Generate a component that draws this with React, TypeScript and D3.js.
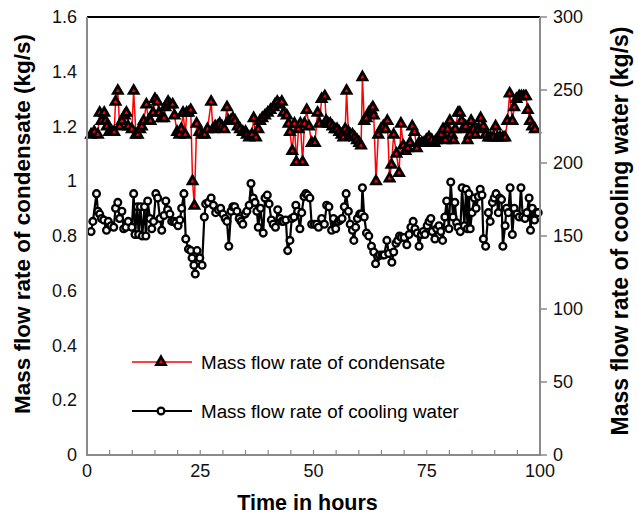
import React from "react";
import * as d3 from "d3";

// Condensate (kg/s): time (h) and value
const condHours = [0.9,1.6,2.4,2.8,3.2,3.8,4.1,4.4,4.9,5.5,6.0,6.3,6.8,7.2,7.7,8.3,8.7,9.1,9.9,10.3,10.8,11.2,11.7,12.1,12.5,13.1,13.6,14.0,14.6,15.0,15.5,15.9,16.4,17.0,17.3,17.9,18.3,18.9,19.3,19.9,20.4,20.8,21.2,21.7,22.0,22.4,22.9,23.3,23.7,24.2,24.8,25.4,26.0,26.6,27.4,27.8,28.3,28.8,29.3,29.8,30.3,30.9,31.2,31.7,32.2,32.7,33.3,33.8,34.4,35.0,35.3,35.8,36.4,36.8,37.3,37.8,38.2,38.7,39.3,39.9,40.5,41.2,41.5,42.0,42.5,43.0,43.4,44.1,44.5,44.8,45.3,45.8,46.2,46.7,47.1,47.6,48.0,48.5,49.0,49.6,50.3,50.9,51.3,51.8,52.5,52.8,53.2,53.7,54.2,54.7,55.2,55.7,56.2,56.6,57.0,57.3,57.7,58.1,58.6,59.1,59.6,60.1,60.5,60.8,61.2,61.7,62.2,62.7,63.1,63.3,63.8,64.3,64.9,65.4,65.9,66.3,66.8,67.2,67.7,68.3,68.9,69.3,69.8,70.3,70.8,71.3,71.8,72.3,72.8,73.3,73.9,74.4,74.9,75.5,76.1,76.7,77.1,77.7,78.2,78.6,79.1,79.6,80.1,80.5,80.9,81.3,81.9,82.3,82.7,83.0,83.6,84.0,84.5,84.8,85.3,85.7,86.4,86.9,87.5,88.0,88.6,89.1,89.7,90.2,90.6,91.2,91.8,92.3,92.8,93.3,93.9,94.3,94.8,95.4,95.9,96.4,96.9,97.3,97.8,98.3,98.9];
const condensate = [1.17,1.18,1.17,1.25,1.22,1.25,1.22,1.20,1.18,1.18,1.18,1.29,1.33,1.20,1.22,1.24,1.25,1.20,1.19,1.33,1.17,1.17,1.19,1.20,1.22,1.28,1.22,1.22,1.25,1.30,1.29,1.25,1.23,1.23,1.27,1.29,1.28,1.28,1.24,1.18,1.17,1.19,1.25,1.17,1.25,1.25,1.26,1.00,0.91,1.21,1.18,1.17,1.17,1.19,1.29,1.19,1.20,1.20,1.21,1.20,1.19,1.27,1.22,1.22,1.23,1.22,1.20,1.19,1.18,1.18,1.17,1.16,1.17,1.23,1.16,1.19,1.22,1.23,1.24,1.25,1.26,1.27,1.28,1.29,1.28,1.29,1.25,1.24,1.21,1.18,1.11,1.21,1.07,1.19,1.21,1.07,1.21,1.26,1.20,1.14,1.14,1.25,1.21,1.30,1.31,1.22,1.21,1.21,1.20,1.19,1.19,1.18,1.17,1.16,1.19,1.33,1.18,1.17,1.17,1.16,1.15,1.14,1.13,1.38,1.22,1.23,1.25,1.26,1.27,1.24,1.00,1.17,1.19,1.20,1.19,1.22,1.01,1.06,1.17,1.10,1.03,1.21,1.13,1.11,1.12,1.14,1.20,1.18,1.12,1.14,1.14,1.14,1.15,1.16,1.15,1.14,1.15,1.16,1.17,1.19,1.15,1.19,1.22,1.17,1.15,1.19,1.25,1.25,1.22,1.19,1.20,1.15,1.17,1.22,1.19,1.17,1.19,1.23,1.20,1.17,1.16,1.16,1.16,1.20,1.16,1.16,1.16,1.16,1.22,1.32,1.22,1.27,1.30,1.31,1.31,1.31,1.31,1.26,1.22,1.20,1.19];

// Cooling water (kg/s): time (h) and value
const coolHours = [0.9,1.3,2.1,2.4,2.8,3.2,3.7,4.3,4.7,5.3,5.9,6.3,6.8,7.2,7.7,8.1,8.6,9.1,9.9,10.3,10.6,11.1,11.4,11.8,12.2,12.7,13.0,13.4,13.9,14.3,14.7,15.2,15.6,16.1,16.5,17.0,17.4,17.8,18.3,18.7,19.2,19.6,20.1,20.5,20.9,21.4,21.8,22.4,22.9,23.2,23.6,23.9,24.3,24.9,25.4,25.9,26.2,26.8,27.4,27.9,28.4,29.0,29.5,30.0,30.5,30.9,31.3,31.8,32.2,32.6,33.1,33.6,34.0,34.4,34.9,35.3,35.8,36.2,36.7,37.1,37.5,37.8,38.3,38.9,39.3,39.8,40.2,40.7,41.1,41.6,42.1,42.6,43.0,43.4,43.9,44.3,44.8,45.2,45.7,46.1,46.5,47.0,47.4,47.9,48.3,48.7,49.2,49.6,50.2,50.7,51.1,51.8,52.4,52.9,53.4,54.0,54.4,54.9,55.5,55.9,56.3,56.8,57.2,57.7,58.1,58.6,58.9,59.3,59.7,60.2,60.6,60.8,61.2,61.7,62.2,62.8,63.3,63.7,64.2,64.6,65.2,65.6,66.2,66.6,67.3,67.7,68.2,68.6,69.0,69.4,70.0,70.6,71.1,71.5,72.0,72.4,72.9,73.3,73.8,74.2,74.6,75.1,75.5,75.9,76.2,76.8,77.2,77.7,78.1,78.5,79.0,79.4,79.9,80.3,80.8,81.2,81.6,81.9,82.4,82.8,83.3,83.7,84.0,84.3,84.6,85.0,85.5,85.9,86.4,86.8,87.2,87.5,88.0,88.6,89.0,89.5,89.9,90.3,90.8,91.1,91.5,91.8,92.3,92.6,93.0,93.4,93.9,94.3,94.9,95.4,95.8,96.2,96.7,97.1,97.6,97.9,98.3,98.8,99.2,99.6];
const coolingWater = [153,160,179,167,165,162,161,154,160,157,156,169,173,162,167,155,156,160,156,179,151,170,151,170,150,170,150,174,162,155,160,179,176,162,154,164,174,168,165,160,160,159,157,161,169,179,148,141,140,135,130,124,140,135,130,163,172,173,176,171,166,168,169,165,162,160,143,167,170,170,167,162,160,158,165,167,171,186,176,173,167,156,169,152,176,178,172,161,158,156,168,162,160,160,161,140,147,162,163,171,167,155,166,177,179,178,176,158,158,158,156,162,158,171,170,154,162,155,160,161,162,170,179,167,158,154,147,156,162,165,165,183,163,152,150,143,139,131,136,137,137,137,147,138,132,139,145,147,150,149,149,144,151,156,160,155,152,143,151,153,151,157,160,162,153,148,155,157,153,147,163,174,155,187,163,173,159,156,153,183,157,182,155,179,155,166,176,169,177,182,178,148,143,166,160,173,176,179,166,176,175,143,157,169,166,183,151,169,165,163,183,163,162,166,176,154,169,161,166,166];

const xTicks = [0, 25, 50, 75, 100];
const leftTicks = [0, 0.2, 0.4, 0.6, 0.8, 1, 1.2, 1.4, 1.6];
const rightTicks = [0, 50, 100, 150, 200, 250, 300];
const legendLabels = ["Mass flow rate of condensate", "Mass flow rate of cooling water"];

const W = 638, H = 518;
const L = 87, R = 540, T = 17, B = 455;
const FONT = "'Liberation Sans', Arial, sans-serif";
const AXIS = "#8a8a8a";

export default function App() {
  const x = d3.scaleLinear().domain([0, 100]).range([L, R]);
  const yL = d3.scaleLinear().domain([0, 1.6]).range([B, T]);
  const yR = d3.scaleLinear().domain([0, 300]).range([B, T]);

  const condPts = condHours.map((h, i) => [x(h), yL(condensate[i])] as [number, number]);
  const coolPts = coolHours.map((h, i) => [x(h), yR(coolingWater[i])] as [number, number]);
  const line = d3.line();
  const tri = d3.symbol().type(d3.symbolTriangle).size(34)() as string;

  const minor = d3.range(5, 100, 5);

  const triMark = (key: string, px: number, py: number) => (
    <path key={key} d={tri} transform={`translate(${px},${py})`} fill="#ff0000" stroke="#000" strokeWidth={2.8} strokeLinejoin="miter" />
  );
  const circMark = (key: string, px: number, py: number) => (
    <circle key={key} cx={px} cy={py} r={3.4} fill="#f4f4f4" stroke="#000" strokeWidth={2.3} />
  );

  return (
    <svg width={W} height={H} style={{ position: "absolute", left: 0, top: 0, background: "#fff" }} fontFamily={FONT}>
      <rect x={0} y={0} width={W} height={H} fill="#fff" />
      {/* series */}
      <path d={line(condPts) || ""} fill="none" stroke="#ff0000" strokeWidth={1.5} />
      <path d={line(coolPts) || ""} fill="none" stroke="#000" strokeWidth={2.2} />
      {condPts.map((p, i) => triMark("c" + i, p[0], p[1]))}
      {coolPts.map((p, i) => circMark("w" + i, p[0], p[1]))}
      {/* axes */}
      <line x1={L} x2={R} y1={T} y2={T} stroke="#000" strokeWidth={2} />
      <line x1={L} x2={L} y1={T} y2={B} stroke={AXIS} strokeWidth={2} />
      <line x1={R} x2={R} y1={T} y2={B} stroke={AXIS} strokeWidth={2} />
      <line x1={L - 1} x2={R + 1} y1={B} y2={B} stroke={AXIS} strokeWidth={2} />
      {minor.map((t) => (
        <line key={"mt" + t} x1={x(t)} x2={x(t)} y1={B} y2={B - 5} stroke={AXIS} strokeWidth={1.2} />
      ))}
      {rightTicks.map((t) => (
        <line key={"rt" + t} x1={R} x2={R + 7} y1={yR(t)} y2={yR(t)} stroke={AXIS} strokeWidth={1.5} />
      ))}
      {xTicks.map((t) => (
        <text key={"xt" + t} x={x(t)} y={477} textAnchor="middle" fontSize={18} fill="#111">{t}</text>
      ))}
      {leftTicks.map((t) => (
        <text key={"lt" + t} x={77} y={yL(t) + 6} textAnchor="end" fontSize={18} fill="#111">{t}</text>
      ))}
      {rightTicks.map((t) => (
        <text key={"rl" + t} x={553} y={yR(t) + 6} textAnchor="start" fontSize={18} fill="#111">{t}</text>
      ))}
      {/* titles */}
      <text x={(L + R) / 2 - 6} y={510} textAnchor="middle" fontSize={21.5} fontWeight="bold" fill="#000">Time in hours</text>
      <text transform={`translate(30,224) rotate(-90)`} textAnchor="middle" fontSize={22.5} fontWeight="bold" fill="#000">Mass flow rate of condensate (kg/s)</text>
      <text transform={`translate(628,231) rotate(-90)`} textAnchor="middle" fontSize={23} fontWeight="bold" fill="#000">Mass flow rate of cooling water (kg/s)</text>
      {/* legend */}
      <line x1={132} x2={192} y1={362} y2={362} stroke="#ff0000" strokeWidth={1.5} />
      {triMark("lt", 161, 362)}
      <text x={201} y={368.5} fontSize={18.8} fill="#000">{legendLabels[0]}</text>
      <line x1={132} x2={192} y1={411} y2={411} stroke="#000" strokeWidth={2.2} />
      {circMark("lc", 161, 411)}
      <text x={201} y={417.5} fontSize={18.8} fill="#000">{legendLabels[1]}</text>
    </svg>
  );
}
